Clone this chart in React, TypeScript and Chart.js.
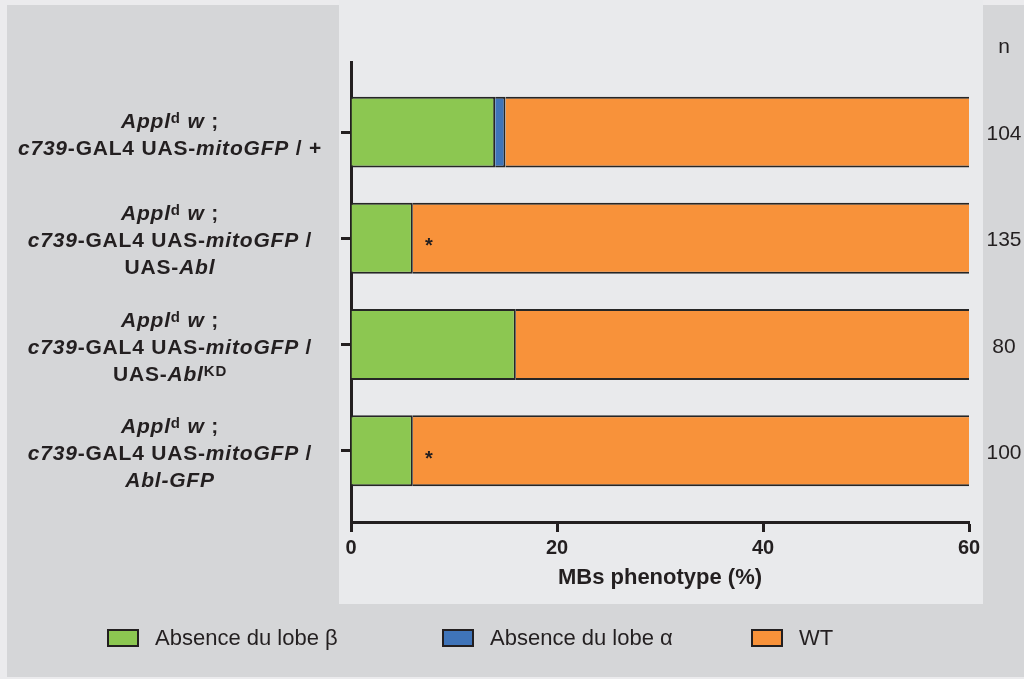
import React, { useEffect, useRef } from 'react';
import { Chart, registerables } from 'chart.js';

Chart.register(...registerables);

// ---------- data ----------
const categories = [
  'Appl^d w ; c739-GAL4 UAS-mitoGFP / +',
  'Appl^d w ; c739-GAL4 UAS-mitoGFP / UAS-Abl',
  'Appl^d w ; c739-GAL4 UAS-mitoGFP / UAS-Abl^KD',
  'Appl^d w ; c739-GAL4 UAS-mitoGFP / Abl-GFP',
];
const absenceBeta = [14, 6, 16, 6];
const absenceAlpha = [1, 0, 0, 0];
const wildType = [85, 94, 84, 94];
const nValues = ['104', '135', '80', '100'];
const significant = [false, true, false, true];
const xTicks = [0, 20, 40, 60];
const seriesNames = ['Absence du lobe β', 'Absence du lobe α', 'WT'];
const seriesColors = ['#8cc751', '#3f74b9', '#f8923a'];
const xTitle = 'MBs phenotype (%)';
const nHeader = 'n';

// rich-text version of the category labels: [text, style]
type Seg = [string, 'b' | 'bi' | 'sup'];
const head: Seg[] = [['Appl', 'bi'], ['d', 'sup'], [' w', 'bi'], [' ;', 'b']];
const richLabels: Seg[][][] = [
  [head, [['c739', 'bi'], ['-GAL4 UAS-', 'b'], ['mitoGFP', 'bi'], [' / +', 'b']]],
  [head, [['c739', 'bi'], ['-GAL4 UAS-', 'b'], ['mitoGFP', 'bi'], [' /', 'b']], [['UAS-', 'b'], ['Abl', 'bi']]],
  [head, [['c739', 'bi'], ['-GAL4 UAS-', 'b'], ['mitoGFP', 'bi'], [' /', 'b']], [['UAS-', 'b'], ['Abl', 'bi'], ['KD', 'sup']]],
  [head, [['c739', 'bi'], ['-GAL4 UAS-', 'b'], ['mitoGFP', 'bi'], [' /', 'b']], [['Abl-GFP', 'bi']]],
];

// ---------- styles ----------
const DARK = '#231f20';
const FAM = '"Liberation Sans", Arial, Helvetica, sans-serif';

function segFont(s: string) {
  if (s === 'bi') return `italic bold 21px ${FAM}`;
  if (s === 'sup') return `bold 15px ${FAM}`;
  return `bold 21px ${FAM}`;
}

function drawRich(ctx: any, segs: Seg[], cx: number, baseline: number) {
  ctx.letterSpacing = '0.8px';
  let w = 0;
  for (const [t, s] of segs) {
    ctx.font = segFont(s);
    w += ctx.measureText(t).width;
  }
  let x = cx - w / 2;
  ctx.textAlign = 'left';
  ctx.textBaseline = 'alphabetic';
  for (const [t, s] of segs) {
    ctx.font = segFont(s);
    ctx.fillText(t, x, s === 'sup' ? baseline - 5 : baseline);
    x += ctx.measureText(t).width;
  }
  ctx.letterSpacing = '0px';
}

const annotatePlugin = {
  id: 'annotate',
  afterDraw(chart: any) {
    const ctx = chart.ctx;
    const ys = chart.scales.y;
    const xs = chart.scales.x;
    ctx.save();
    ctx.fillStyle = DARK;

    // category labels
    richLabels.forEach((lines, i) => {
      const t = ys.getPixelForValue(i + 1);
      const b1 = t + 9 - ((lines.length - 1) * 27) / 2;
      lines.forEach((segs, j) => drawRich(ctx, segs, 170, b1 + j * 27));
    });

    // n column
    ctx.font = `21px ${FAM}`;
    ctx.textAlign = 'center';
    ctx.textBaseline = 'alphabetic';
    ctx.fillText(nHeader, 1004, 53);
    nValues.forEach((n, i) => {
      ctx.fillText(n, 1004, ys.getPixelForValue(i + 1) + 8);
    });

    // significance asterisks
    ctx.font = `bold 20px ${FAM}`;
    significant.forEach((s, i) => {
      if (!s) return;
      const px = xs.getPixelForValue(absenceBeta[i] + absenceAlpha[i]) + 16;
      ctx.fillText('*', px, ys.getPixelForValue(i + 1) + 14);
    });

    // legend
    const starts = [107, 442, 751];
    ctx.textAlign = 'left';
    chart.data.datasets.forEach((ds: any, i: number) => {
      const bx = starts[i];
      ctx.fillStyle = ds.backgroundColor;
      ctx.fillRect(bx, 629, 32, 18);
      ctx.strokeStyle = DARK;
      ctx.lineWidth = 2;
      ctx.strokeRect(bx + 1, 630, 30, 16);
      ctx.fillStyle = DARK;
      ctx.font = `22px ${FAM}`;
      ctx.fillText(ds.label, bx + 48, 645);
    });

    ctx.restore();
  },
};

export default function App() {
  const ref = useRef<HTMLCanvasElement>(null);

  useEffect(() => {
    document.body.style.margin = '0';
    const series = [absenceBeta, absenceAlpha, wildType];
    const chart = new Chart(ref.current as HTMLCanvasElement, {
      type: 'bar',
      data: {
        datasets: series.map((vals, k) => ({
          label: seriesNames[k],
          data: vals.map((v, i) => ({ x: v, y: i + 1 })),
          backgroundColor: seriesColors[k],
          borderColor: '#262626',
          borderWidth: 2,
          borderSkipped: 'start',
          barPercentage: 0.668,
          categoryPercentage: 1,
          clip: 0,
        })) as any,
      },
      options: {
        animation: false,
        responsive: false,
        indexAxis: 'y',
        layout: { padding: { top: 62, right: 55, bottom: 0, left: 0 } },
        plugins: {
          legend: { display: false },
          tooltip: { enabled: false },
        },
        scales: {
          x: {
            type: 'linear',
            position: 'bottom',
            stacked: true,
            min: 0,
            max: 60,
            afterBuildTicks: (s: any) => {
              s.ticks = xTicks.map((v) => ({ value: v }));
            },
            grid: { drawOnChartArea: false, drawTicks: true, tickLength: 10, tickWidth: 3, color: DARK },
            border: { display: true, width: 3, color: DARK },
            ticks: {
              color: DARK,
              autoSkip: false,
              maxRotation: 0,
              padding: 4,
              font: { family: FAM, size: 20, weight: 'bold' },
            },
            title: {
              display: true,
              text: xTitle,
              color: DARK,
              font: { family: FAM, size: 22, weight: 'bold' },
              padding: { top: 0, bottom: 88 },
            },
            afterFit: (s: any) => {
              s.height = 157;
            },
          },
          y: {
            type: 'linear',
            stacked: true,
            reverse: true,
            offset: false,
            min: 0.34,
            max: 4.67,
            afterBuildTicks: (s: any) => {
              s.ticks = categories.map((_, i) => ({ value: i + 1 }));
            },
            grid: { offset: false, drawOnChartArea: false, drawTicks: true, tickLength: 10, tickWidth: 3, color: DARK },
            border: { display: true, width: 3, color: DARK },
            ticks: { autoSkip: false, callback: () => '' },
            afterFit: (s: any) => {
              s.width = 351;
            },
          },
        },
      } as any,
      plugins: [annotatePlugin],
    });
    return () => chart.destroy();
  }, []);

  return (
    <div style={{ position: 'fixed', left: 0, top: 0, width: 1024, height: 679, background: '#ebebed', overflow: 'hidden' }}>
      <div style={{ position: 'absolute', left: 7, top: 5, width: 1017, height: 672, background: '#d5d6d8' }} />
      <div style={{ position: 'absolute', left: 339, top: 0, width: 644, height: 604, background: '#e9eaec' }} />
      <canvas
        ref={ref}
        width={1024}
        height={679}
        style={{ position: 'absolute', left: 0, top: 0, width: 1024, height: 679 }}
      />
    </div>
  );
}
